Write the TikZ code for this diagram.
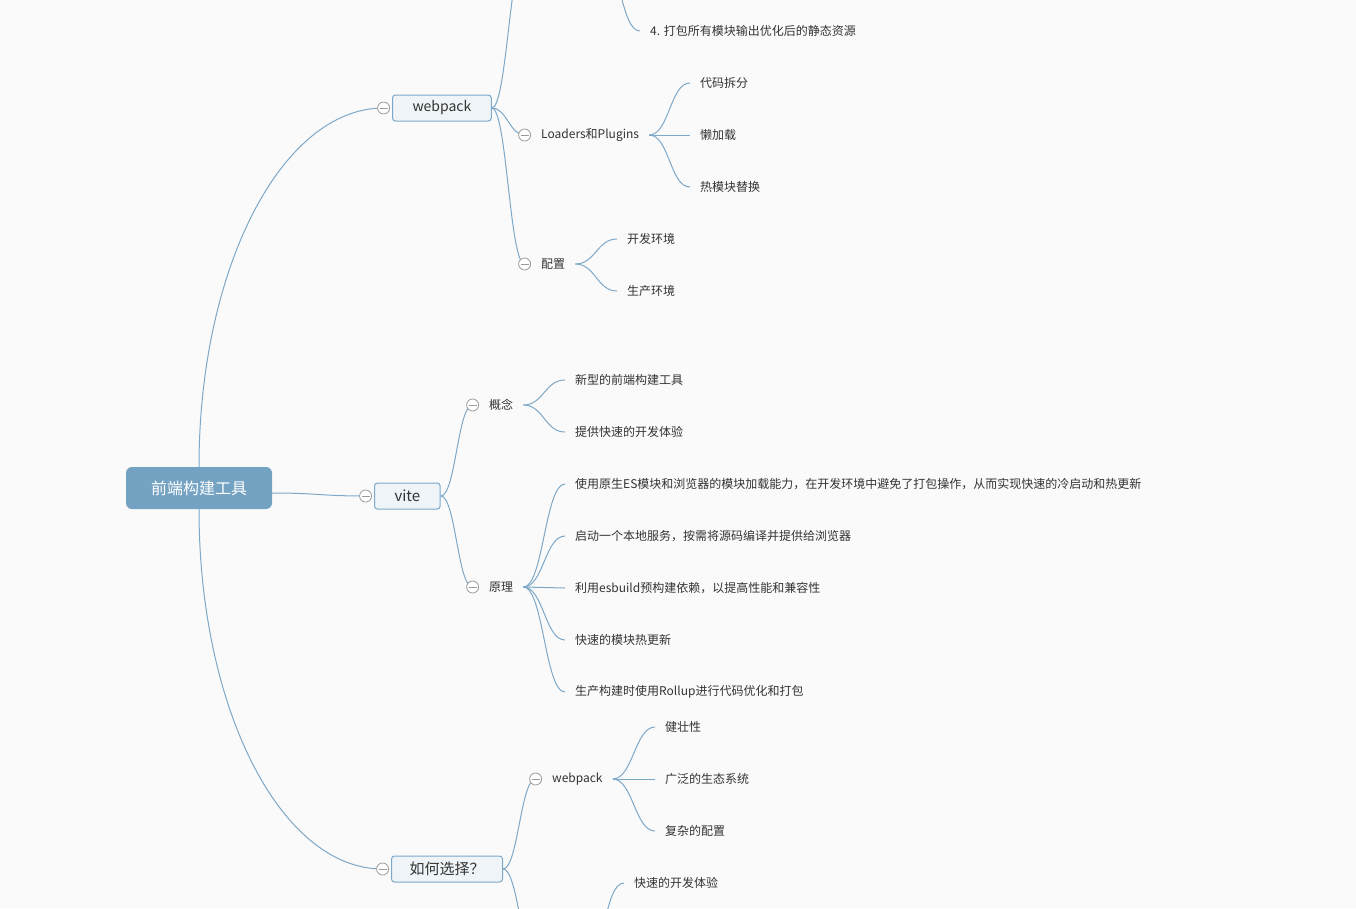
\documentclass[tikz,border=0pt]{standalone}
\usepackage{fontspec}
\setmainfont{Noto Sans CJK SC}
\usepackage{xcolor}
\usepackage{tikz}
\usetikzlibrary{positioning}
\usetikzlibrary{backgrounds}
\definecolor{linecol}{HTML}{7EA8C8}
\definecolor{rootcol}{HTML}{74A2C2}
\definecolor{topicfill}{HTML}{EEF4F8}
\definecolor{textcol}{HTML}{333333}
\definecolor{foldcol}{HTML}{9B9B9B}
\definecolor{bgcol}{HTML}{FAFAFA}

\begin{document}
\begin{tikzpicture}[x=1pt,y=-1pt,
  rootbox/.style={fill=rootcol, rounded corners=6pt, minimum width=146pt, minimum height=42pt, text=white, font=\fontsize{16}{19}\selectfont},
  topic/.style={draw=linecol, fill=topicfill, rounded corners=3pt, line width=1pt, inner xsep=20pt, minimum height=26pt, anchor=west, text=textcol, font=\fontsize{15}{18}\selectfont},
  subtopic/.style={anchor=west, inner xsep=10pt, inner ysep=2pt, text=textcol, font=\fontsize{12}{14}\selectfont},
  leaf/.style={subtopic},
  fold/.style={circle, draw=foldcol, fill=white, line width=0.8pt, inner sep=0pt, minimum size=12pt,
    path picture={\draw[foldcol, line width=0.8pt] ([xshift=-4pt]path picture bounding box.center) -- ([xshift=4pt]path picture bounding box.center);}},
  branch/.style={draw=linecol, line width=1pt}]

\useasboundingbox (0,0) rectangle (1356,908);

% Draw the root and the main topics
\node[rootbox] (root) at (199,488) {前端构建工具};
\node[topic, font=\fontsize{14}{17}\selectfont] (webpack) at (392,108) {webpack};
\node[fold, left=2pt of webpack] (fWebpack) {};
\node[topic] (vite) at (374,496) {vite};
\node[fold, left=2pt of vite] (fVite) {};
\node[topic, inner xsep=18pt] (choose) at (391,869) {如何选择？};
\node[fold, left=2pt of choose] (fChoose) {};

% Draw the subtopics
\node[subtopic] (loaders) at (531,135) {Loaders和Plugins};
\node[fold, left=0pt of loaders] (fLoaders) {};
\node[subtopic] (config) at (531,264) {配置};
\node[fold, left=0pt of config] (fConfig) {};
\node[subtopic] (concept) at (479,405) {概念};
\node[fold, left=0pt of concept] (fConcept) {};
\node[subtopic] (principle) at (479,587) {原理};
\node[fold, left=0pt of principle] (fPrinciple) {};
\node[subtopic] (cwebpack) at (542,779) {webpack};
\node[fold, left=0pt of cwebpack] (fCwebpack) {};

% Branches that run out of the page
\coordinate (flow) at (525,-47);
\coordinate (flowEnd) at (600,-47);
\coordinate (cvite) at (536,959);
\coordinate (cviteEnd) at (585,961);

% Draw the leaves
\node[leaf] (step4) at (640,31) {4. 打包所有模块输出优化后的静态资源};
\foreach \txt [count=\i] in {{代码拆分},{懒加载},{热模块替换}}
  \node[leaf] (lp\i) at (690,31+52*\i) {\txt};
\foreach \txt [count=\i] in {{开发环境},{生产环境}}
  \node[leaf] (cf\i) at (617,187+52*\i) {\txt};
\foreach \txt [count=\i] in {{新型的前端构建工具},{提供快速的开发体验}}
  \node[leaf] (cc\i) at (565,328+52*\i) {\txt};
\foreach \txt [count=\i] in {{使用原生ES模块和浏览器的模块加载能力，在开发环境中避免了打包操作，从而实现快速的冷启动和热更新},{启动一个本地服务，按需将源码编译并提供给浏览器},{利用esbuild预构建依赖，以提高性能和兼容性},{快速的模块热更新},{生产构建时使用Rollup进行代码优化和打包}}
  \node[leaf] (pr\i) at (565,432+52*\i) {\txt};
\foreach \txt [count=\i] in {{健壮性},{广泛的生态系统},{复杂的配置}}
  \node[leaf] (cw\i) at (655,675+52*\i) {\txt};
\node[leaf] (fastdev) at (624,883) {快速的开发体验};

% Draw the branches
\begin{scope}[on background layer]
  \fill[bgcol] (0,0) rectangle (1356,908);
  \draw[branch] (root.north) .. controls +(0,-198) and +(-102,0) .. (fWebpack.center);
  \draw[branch] (root.south) .. controls +(0,199) and +(-102,0) .. (fChoose.center);
  \draw[branch] ([yshift=-5pt]root.east) .. controls +(45,0) and +(-45,0) .. (fVite.center);

  \foreach \t in {flow,fLoaders.center,fConfig.center}
    \draw[branch] (webpack.east) .. controls +(15,0) and +(-15,0) .. (\t);
  \foreach \t in {fConcept,fPrinciple}
    \draw[branch] (vite.east) .. controls +(15,0) and +(-15,0) .. (\t.center);
  \foreach \t in {fCwebpack.center,cvite}
    \draw[branch] (choose.east) .. controls +(15,0) and +(-15,0) .. (\t);

  \draw[branch] (flowEnd) .. controls +(20,0) and +(-20,0) .. (step4.west);
  \foreach \i in {1,2,3}
    \draw[branch] (loaders.east) .. controls +(20,0) and +(-20,0) .. (lp\i.west);
  \foreach \i in {1,2}
    \draw[branch] (config.east) .. controls +(20,0) and +(-20,0) .. (cf\i.west);
  \foreach \i in {1,2}
    \draw[branch] (concept.east) .. controls +(20,0) and +(-20,0) .. (cc\i.west);
  \foreach \i in {1,...,5}
    \draw[branch] (principle.east) .. controls +(20,0) and +(-20,0) .. (pr\i.west);
  \foreach \i in {1,2,3}
    \draw[branch] (cwebpack.east) .. controls +(20,0) and +(-20,0) .. (cw\i.west);
  \draw[branch] (cviteEnd) .. controls +(20,0) and +(-20,0) .. (fastdev.west);
\end{scope}

\end{tikzpicture}
\end{document}
